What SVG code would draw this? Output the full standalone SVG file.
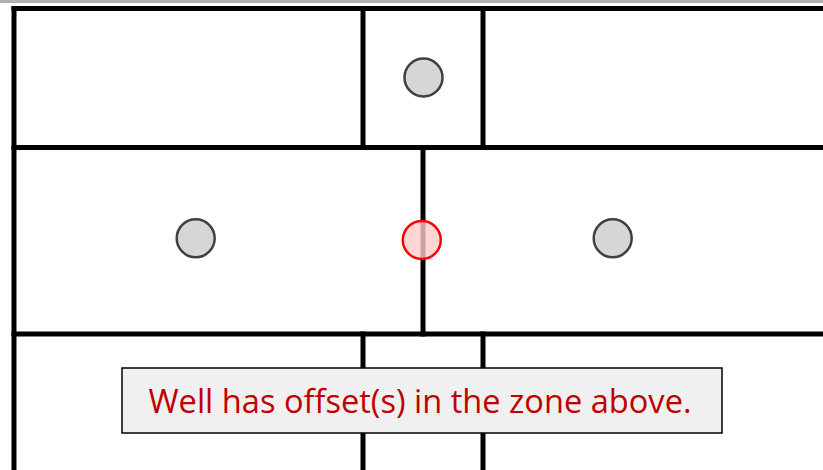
<svg xmlns="http://www.w3.org/2000/svg" width="823" height="470" viewBox="0 0 823 470">
  <style>
    .grid { stroke: #000; stroke-width: 5; fill: none; stroke-linecap: square; }
    .well { fill: #d6d6d6; stroke: #404040; stroke-width: 2.5; }
    .offset { fill: #ffcccc; fill-opacity: 0.8; stroke: #ff0000; stroke-width: 2.5; }
    .msgbox { fill: #f0f0f0; stroke: #000; stroke-width: 1.5; }
    .msg { font-family: "Open Sans", "Liberation Sans", sans-serif; font-size: 32px; fill: #c00000; }
  </style>
  <rect x="0" y="0" width="823" height="470" fill="#fff"/>
  <rect x="0" y="0" width="823" height="3" fill="#b0b0b0"/>
  <g id="zones" class="grid">
    <line x1="14" y1="8.5" x2="830" y2="8.5"/>
    <line x1="14" y1="8.5" x2="14" y2="480"/>
    <line x1="14" y1="147.5" x2="830" y2="147.5"/>
    <line x1="14" y1="334" x2="830" y2="334"/>
    <line x1="363" y1="8.5" x2="363" y2="147.5"/>
    <line x1="483" y1="8.5" x2="483" y2="147.5"/>
    <line x1="423" y1="147.5" x2="423" y2="334"/>
    <line x1="363" y1="334" x2="363" y2="480"/>
    <line x1="483" y1="334" x2="483" y2="480"/>
  </g>
  <g id="well-top"><circle class="well" cx="423.5" cy="77.5" r="19"/></g>
  <g id="well-left"><circle class="well" cx="195.7" cy="238.3" r="19"/></g>
  <g id="well-right"><circle class="well" cx="612.7" cy="238.3" r="19"/></g>
  <g id="well-offset"><circle class="offset" cx="421.8" cy="240" r="19"/></g>
  <g id="message">
    <rect class="msgbox" x="122" y="368" width="600" height="65"/>
    <text class="msg" x="148.5" y="412.5" textLength="543" lengthAdjust="spacingAndGlyphs">Well has offset(s) in the zone above.</text>
  </g>
</svg>
